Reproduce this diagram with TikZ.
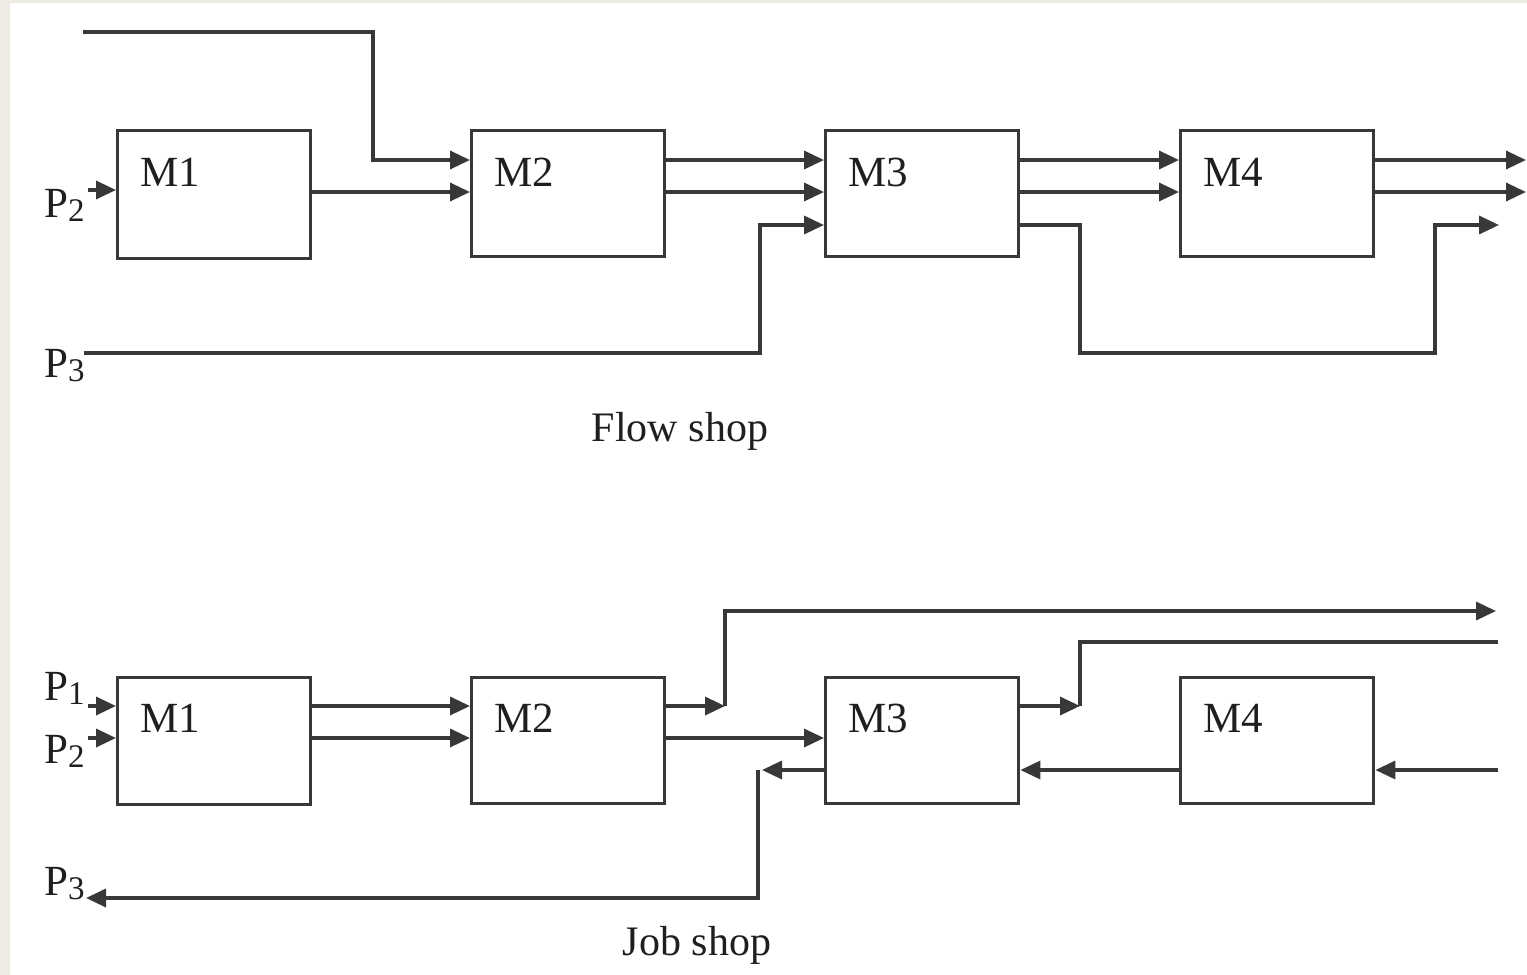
\documentclass[tikz,border=0pt]{standalone}
\usepackage{fontspec}
\setmainfont{Liberation Serif}
\usetikzlibrary{arrows.meta}
\definecolor{lc}{HTML}{383838}
\definecolor{bgc}{HTML}{EEEBE3}
\newcommand\Psub[1]{P\raisebox{-0.1em}{\fontsize{33}{33}\selectfont #1}}
\begin{document}
\begin{tikzpicture}[x=1pt,y=-1pt,
  conn/.style={draw=lc, line width=3.4pt},
  arr/.style={conn, -{Triangle[length=20pt,width=18pt]}},
  box/.style={draw=lc, line width=3.4pt, fill=white, minimum width=193pt, minimum height=126pt, anchor=north west, inner sep=0pt},
  lab/.style={font=\fontsize{43}{48}\selectfont, text=black!88, inner sep=0pt, anchor=base west},
  title/.style={font=\fontsize{42}{48}\selectfont, text=black!88, inner sep=0pt, anchor=base}]
\fill[bgc] (0,0) rectangle (1527,975);
\fill[white] (10,3) rectangle (1527,975);
\useasboundingbox (0,0) rectangle (1527,975);

% ---------- Flow shop ----------
\node[box, minimum height=128pt] (f1) at (116,129) {};
\node[box] (f2) at (470,129) {};
\node[box] (f3) at (824,129) {};
\node[box] (f4) at (1179,129) {};
\node[lab] (f1l) at (140,186) {M1};
\node[lab] (f2l) at (494,186) {M2};
\node[lab] (f3l) at (848,186) {M3};
\node[lab] (f4l) at (1203,186) {M4};
\node[lab] (fp2) at (44,217) {\Psub{2}};
\node[lab] (fp3) at (44,377) {\Psub{3}};
\node[title] (flow) at (680,441) {Flow shop};

\coordinate (ftop) at (83,32);
\coordinate (fc1) at (373,32);
\coordinate (fp2s) at (88,190);
\coordinate (fp3s) at (84,353);
\coordinate (fc2) at (760,353);
\coordinate (fc3) at (1080,225);
\coordinate (fc4) at (1080,353);
\coordinate (fc5) at (1435,353);
\coordinate (fo1) at (1526,160);
\coordinate (fo2) at (1526,192);
\coordinate (fo3) at (1499,225);

\draw[arr] (ftop) -- (fc1) |- (f2.west |- 0,160);
\draw[arr] (fp2s) -- (f1.west |- fp2s);
\draw[arr] (f1.east |- 0,192) -- (f2.west |- 0,192);
\draw[arr] (fp3s) -- (fc2) |- (f3.west |- 0,225);
\draw[arr] (f2.east |- 0,160) -- (f3.west |- 0,160);
\draw[arr] (f2.east |- 0,192) -- (f3.west |- 0,192);
\draw[arr] (f3.east |- 0,160) -- (f4.west |- 0,160);
\draw[arr] (f3.east |- 0,192) -- (f4.west |- 0,192);
\draw[arr] (f3.east |- fc3) -- (fc3) -- (fc4) -- (fc5) |- (fo3);
\draw[arr] (f4.east |- fo1) -- (fo1);
\draw[arr] (f4.east |- fo2) -- (fo2);

% ---------- Job shop ----------
\node[box, minimum height=127pt] (b1) at (116,676) {};
\node[box] (b2) at (470,676) {};
\node[box] (b3) at (824,676) {};
\node[box] (b4) at (1179,676) {};
\node[lab] (b1l) at (140,732) {M1};
\node[lab] (b2l) at (494,732) {M2};
\node[lab] (b3l) at (848,732) {M3};
\node[lab] (b4l) at (1203,732) {M4};
\node[lab] (bp1) at (44,700) {\Psub{1}};
\node[lab] (bp2) at (44,763) {\Psub{2}};
\node[lab] (bp3) at (44,895) {\Psub{3}};
\node[title] (job) at (697,955) {Job shop};

\coordinate (bp1s) at (88,706);
\coordinate (bp2s) at (88,738);
\coordinate (bj1) at (725,706);
\coordinate (bo1) at (1496,611);
\coordinate (bj2) at (762,770);
\coordinate (bj2b) at (758,770);
\coordinate (bp3e) at (86,898);
\coordinate (bj3) at (1080,706);
\coordinate (bi1) at (1498,642);
\coordinate (bi2) at (1498,770);

\draw[arr] (bp1s) -- (b1.west |- bp1s);
\draw[arr] (bp2s) -- (b1.west |- bp2s);
\draw[arr] (b1.east |- bp1s) -- (b2.west |- bp1s);
\draw[arr] (b1.east |- bp2s) -- (b2.west |- bp2s);
\draw[arr] (b2.east |- bj1) -- (bj1);
\draw[arr] (bj1) |- (bo1);
\draw[arr] (b2.east |- bp2s) -- (b3.west |- bp2s);
\draw[arr] (b3.west |- bj2) -- (bj2);
\draw[arr] (bj2b) |- (bp3e);
\draw[arr] (b3.east |- bj3) -- (bj3);
\draw[conn] (bj3) |- (bi1);
\draw[arr] (b4.west |- bi2) -- (b3.east |- bi2);
\draw[arr] (bi2) -- (b4.east |- bi2);
\end{tikzpicture}
\end{document}
